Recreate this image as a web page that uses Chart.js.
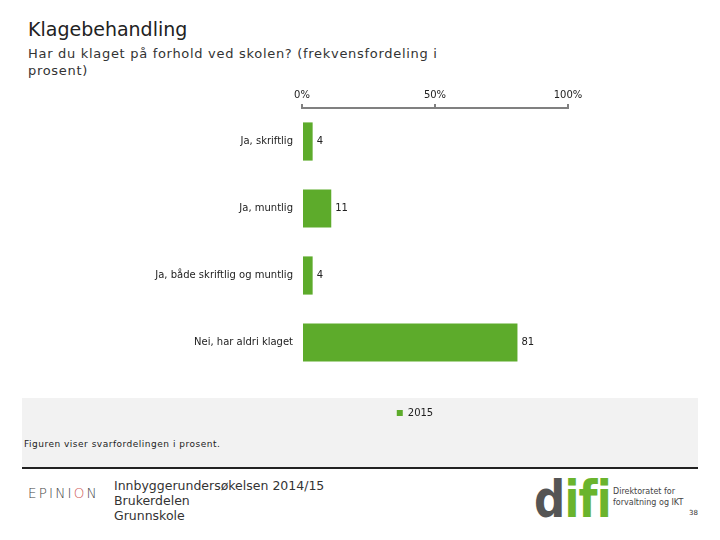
<!DOCTYPE html>
<html>
<head>
<meta charset="utf-8">
<script src="https://cdn.jsdelivr.net/npm/chart.js@4"></script>
<style>
  body { margin: 0; width: 720px; height: 540px; background: #fff; position: relative; overflow: hidden; font-family: "DejaVu Sans", Verdana, sans-serif; color: #222; }
  .abs { position: absolute; white-space: nowrap; }
  #title { left: 28px; top: 18px; font-size: 19px; color: #222; }
  #subtitle { left: 28px; top: 45px; font-size: 13px; line-height: 17px; letter-spacing: 0.7px; color: #333; }
  #box { left: 22px; top: 398px; width: 676px; height: 69px; background: #f2f2f2; border-bottom: 2px solid #222; }
  #note { left: 24px; top: 439px; font-size: 9px; letter-spacing: 0.5px; color: #222; }
  #chartWrap { position: absolute; left: 0; top: 80px; width: 720px; height: 348px; z-index: 2; }
  #epinion { left: 28px; top: 485px; font-size: 13.5px; letter-spacing: 2.2px; color: #444; font-weight: 300; }
  #epinion span { color: #d0605a; }
  #survey { left: 114px; top: 478px; font-size: 12.5px; line-height: 15px; color: #333; }
  #difi { left: 534px; top: 469px; font-size: 52px; font-weight: bold; color: #6ab42d; letter-spacing: -1px; transform: scaleX(0.84); transform-origin: left top; }
  #difi span { color: #555; }
  #difiText { left: 613px; top: 486px; font-size: 8px; line-height: 11px; color: #444; }
  #page { left: 689px; top: 509px; font-size: 7px; color: #333; }
</style>
</head>
<body>
<div class="abs" id="title">Klagebehandling</div>
<div class="abs" id="subtitle">Har du klaget på forhold ved skolen? (frekvensfordeling i<br>prosent)</div>
<div class="abs" id="box"></div>
<div class="abs" id="note">Figuren viser svarfordelingen i prosent.</div>
<div id="chartWrap"><canvas id="klageChart"></canvas></div>
<div class="abs" id="epinion">EPINI<span>O</span>N</div>
<div class="abs" id="survey">Innbyggerundersøkelsen 2014/15<br>Brukerdelen<br>Grunnskole</div>
<div class="abs" id="difi"><span>d</span>ifi</div>
<div class="abs" id="difiText">Direktoratet for<br>forvaltning og IKT</div>
<div class="abs" id="page">38</div>
<script>
const categories = ["Ja, skriftlig", "Ja, muntlig", "Ja, både skriftlig og muntlig", "Nei, har aldri klaget"];
const values2015 = [4, 11, 4, 81];
const seriesName = "2015";
const xTicks = [0, 50, 100];

const barGreen = "#5dab2b";
const axisGray = "#808080";
const fontFam = "'DejaVu Sans', Verdana, sans-serif";

// value labels just right of each bar
const valueLabels = {
    id: "valueLabels",
    afterDatasetsDraw(chart) {
        const ctx = chart.ctx;
        ctx.save();
        ctx.font = "10px " + fontFam;
        ctx.fillStyle = "#222";
        ctx.textBaseline = "middle";
        ctx.textAlign = "left";
        chart.getDatasetMeta(0).data.forEach(function(bar, i) {
            ctx.fillText(String(values2015[i]), bar.x + 4, bar.y);
        });
        ctx.restore();
    }
};

// legend sits a bit left of the plot centre in the original
const legendNudge = {
    id: "legendNudge",
    afterLayout(chart) {
        if (!chart.legend) return;
        chart.legend.left -= 20;
        chart.legend.right -= 20;
    }
};

new Chart(document.getElementById("klageChart"), {
    type: "bar",
    data: {
        labels: categories,
        datasets: [{
            label: seriesName,
            data: values2015,
            backgroundColor: barGreen,
            borderWidth: 0,
            barPercentage: 0.57,
            categoryPercentage: 1
        }]
    },
    options: {
        indexAxis: "y",
        responsive: true,
        maintainAspectRatio: false,
        animation: false,
        layout: { padding: { left: 0, right: 152, top: 0, bottom: 0 } },
        scales: {
            x: {
                position: "top",
                min: 0,
                max: 100,
                afterBuildTicks: function(scale) {
                    scale.ticks = xTicks.map(function(v) { return { value: v }; });
                },
                afterFit: function(scale) { scale.height = 28; },
                grid: { display: true, drawOnChartArea: false, drawTicks: true, tickLength: 4, color: axisGray, lineWidth: 2 },
                border: { display: true, color: axisGray, width: 2 },
                ticks: {
                    padding: 3,
                    color: "#222",
                    font: { family: fontFam, size: 10 },
                    maxRotation: 0,
                    autoSkip: false,
                    callback: function(v) { return v + "%"; }
                }
            },
            y: {
                afterFit: function(scale) { scale.width = 302; },
                grid: { display: false, drawTicks: false },
                border: { display: false },
                ticks: {
                    padding: 9,
                    color: "#222",
                    font: { family: fontFam, size: 10 }
                }
            }
        },
        plugins: {
            legend: {
                position: "bottom",
                fullSize: false,
                labels: {
                    boxWidth: 6,
                    boxHeight: 6,
                    padding: 32,
                    color: "#222",
                    font: { family: fontFam, size: 10 }
                }
            },
            tooltip: { enabled: false }
        }
    },
    plugins: [valueLabels, legendNudge]
});
</script>
</body>
</html>
